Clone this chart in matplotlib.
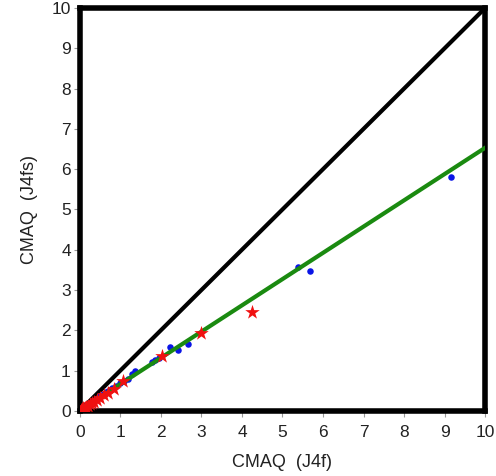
import matplotlib
matplotlib.use("Agg")
import matplotlib.pyplot as plt
import numpy as np

plt.rcParams['font.family'] = ['Liberation Sans', 'DejaVu Sans']

# Blue dots (x = CMAQ J4f, y = CMAQ J4fs)
blue_x = [0.05, 0.1, 0.15, 0.2, 0.25, 0.3, 0.35, 0.4, 0.45, 0.5, 0.55, 0.6, 0.65, 0.7, 0.8,
          0.9, 1.0, 1.1, 1.19, 1.28, 1.36, 1.78, 1.86, 1.95, 2.23, 2.43, 2.68, 5.38, 5.67, 9.16]
blue_y = [0.04, 0.07, 0.11, 0.14, 0.18, 0.21, 0.25, 0.29, 0.32, 0.36, 0.39, 0.42, 0.46, 0.5, 0.56,
          0.62, 0.68, 0.75, 0.80, 0.91, 0.99, 1.20, 1.25, 1.30, 1.58, 1.50, 1.66, 3.57, 3.47, 5.80]

# Red stars
red_x = [0.02, 0.05, 0.08, 0.12, 0.15, 0.2, 0.25, 0.3, 0.35, 0.42, 0.5, 0.6, 0.7, 0.85, 1.07, 2.03, 2.98, 4.24]
red_y = [0.02, 0.04, 0.06, 0.08, 0.10, 0.13, 0.16, 0.19, 0.22, 0.27, 0.32, 0.38, 0.45, 0.55, 0.75, 1.37, 1.92, 2.46]

# Fit line (green) and 1:1 line
fit_slope = 0.652
fit_intercept = 0.01
ticks = [0, 1, 2, 3, 4, 5, 6, 7, 8, 9, 10]

fig = plt.figure(figsize=(4.96, 4.76), dpi=100)
ax = fig.add_axes([0.161, 0.137, 0.817, 0.846])

ax.plot([0, 10], [0, 10], color='black', lw=3, zorder=2)
xx = np.array([0, 10])
ax.plot(xx, fit_slope * xx + fit_intercept, color='#1a8a10', lw=3, zorder=4)
ax.scatter(blue_x, blue_y, s=22, color='#0a14e6', zorder=3, linewidths=0)
ax.scatter(red_x, red_y, s=120, marker='*', color='#f01010', zorder=5, linewidths=0)

ax.set_xlim(0, 10)
ax.set_ylim(0, 10)
ax.set_xticks(ticks)
ax.set_yticks(ticks)
for s in ax.spines.values():
    s.set_linewidth(4)
    s.set_color('black')
ax.tick_params(direction='out', length=4.5, width=0.8, color='#999999', labelsize=12.5,
               labelcolor='#222222')
ax.tick_params(axis='x', pad=6)
ax.tick_params(axis='y', pad=2)
ax.set_xlabel('CMAQ  (J4f)', fontsize=13, color='#222222', labelpad=10)
ax.set_ylabel('CMAQ  (J4fs)', fontsize=13, color='#222222', labelpad=10)

fig.savefig('out.png', dpi=100)
